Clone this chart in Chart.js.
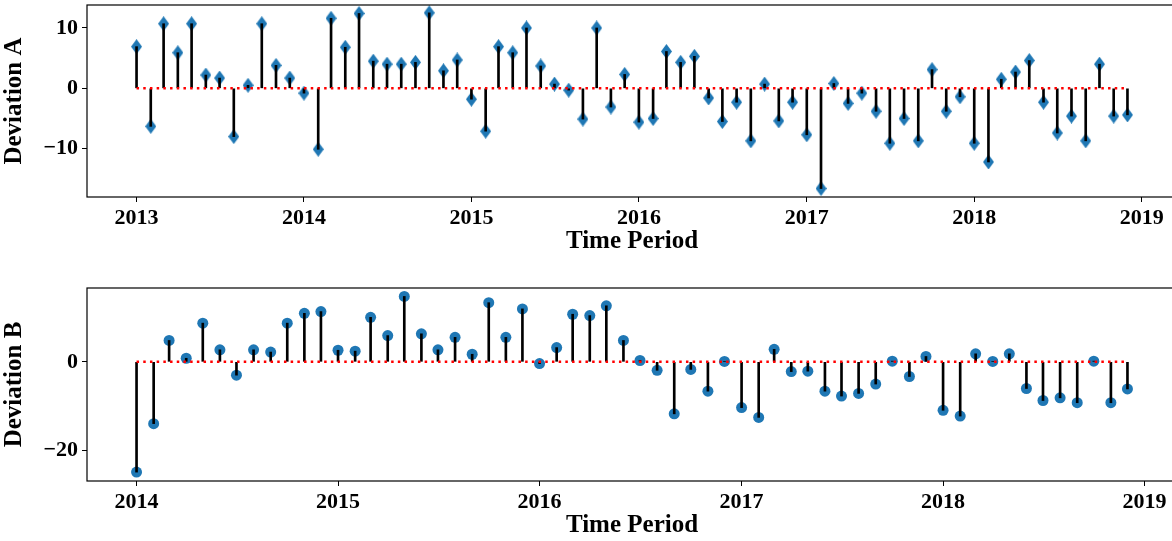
<!DOCTYPE html>
<html>
<head>
<meta charset="utf-8">
<script src="https://cdn.jsdelivr.net/npm/chart.js@4.4.1/dist/chart.umd.min.js"></script>
<style>
  html, body { margin: 0; padding: 0; background: #fff; overflow: hidden; width: 1172px; height: 541px; }
  canvas { position: absolute; left: 0; }
  #chartA { top: 0; }
  #chartB { top: 283px; }
</style>
</head>
<body>
<canvas id="chartA" width="1177" height="257" style="width:1177px;height:257px"></canvas>
<canvas id="chartB" width="1177" height="258" style="width:1177px;height:258px"></canvas>
<script>
'use strict';

// years covered by each panel (monthly points, Jan..Dec)
const yearsA = [2013, 2014, 2015, 2016, 2017, 2018];
const yearsB = [2014, 2015, 2016, 2017, 2018];

// Deviation A, 2013-01 .. 2018-12
const deviationA = [
  6.9, -6.3, 10.7, 5.9, 10.7, 2.2, 1.7, -8.0, 0.5, 10.7, 3.8, 1.7,
  -0.8, -10.1, 11.6, 6.8, 12.4, 4.5, 4.0, 4.0, 4.3, 12.5, 2.9, 4.7,
  -1.8, -7.1, 6.9, 5.9, 10.0, 3.7, 0.7, -0.3, -5.1, 10.0, -3.1, 2.3,
  -5.6, -5.0, 6.1, 4.3, 5.3, -1.6, -5.5, -2.3, -8.7, 0.7, -5.4, -2.3,
  -7.7, -16.6, 0.8, -2.5, -0.8, -3.8, -9.1, -5.0, -8.7, 3.1, -3.8, -1.4,
  -9.1, -12.2, 1.5, 2.7, 4.6, -2.3, -7.4, -4.6, -8.7, 4.0, -4.6, -4.4
];

// Deviation B, 2014-01 .. 2018-12
const deviationB = [
  -24.8, -13.9, 4.8, 0.8, 8.7, 2.7, -3.0, 2.7, 2.2, 8.7, 10.9, 11.3,
  2.6, 2.4, 10.0, 5.9, 14.7, 6.3, 2.7, 5.5, 1.7, 13.3, 5.5, 11.9,
  -0.4, 3.2, 10.7, 10.4, 12.6, 4.8, 0.3, -1.9, -11.7, -1.7, -6.6, 0.1,
  -10.3, -12.5, 2.8, -2.2, -2.1, -6.6, -7.7, -7.1, -5.0, 0.15, -3.3, 1.2,
  -10.9, -12.2, 1.8, 0.1, 1.8, -6.0, -8.7, -8.1, -9.2, 0.15, -9.2, -6.1
];

// tick labels
const xTickYearsA = [2013, 2014, 2015, 2016, 2017, 2018, 2019];
const xTickYearsB = [2014, 2015, 2016, 2017, 2018, 2019];
const yTicksA = [-10, 0, 10];
const yTicksB = [-20, 0];

const DAY = 86400000;
function dayOf(year, month) { return Date.UTC(year, month - 1, 1) / DAY; }
function monthsOf(years) {
  let out = [];
  for (let y of years) {
    for (let m = 1; m <= 12; m++) out.push(dayOf(y, m));
  }
  return out;
}

// thin diamond marker (matplotlib 'd')
function makeDiamond(w, h, color) {
  let c = document.createElement('canvas');
  c.width = w;
  c.height = h;
  let g = c.getContext('2d');
  g.fillStyle = color;
  g.beginPath();
  g.moveTo(w / 2, 0);
  g.lineTo(w, h / 2);
  g.lineTo(w / 2, h);
  g.lineTo(0, h / 2);
  g.closePath();
  g.fill();
  return c;
}

Chart.defaults.font.family = '"Liberation Serif", "Times New Roman", serif';
Chart.defaults.font.weight = 'bold';
Chart.defaults.color = '#000';

// box around the plot area
const framePlugin = {
  id: 'frame',
  afterDatasetsDraw(chart) {
    let a = chart.chartArea;
    let ctx = chart.ctx;
    ctx.save();
    ctx.strokeStyle = '#000';
    ctx.lineWidth = 1.2;
    ctx.strokeRect(a.left, a.top, a.right - a.left, a.bottom - a.top);
    ctx.restore();
  }
};

function minusLabel(v) {
  return v < 0 ? '\u2212' + Math.abs(v) : String(v);
}

function renderStem(canvasId, years, values, pointStyle, pointRadius, yMin, yMax, yTicks, xYears, yTitle) {
  let months = monthsOf(years);
  let first = months[0];
  let last = months[months.length - 1];
  let pad = (last - first) * 0.05;

  return new Chart(document.getElementById(canvasId), {
    type: 'bar',
    data: {
      datasets: [
        {
          // baseline
          type: 'line',
          data: [{ x: first, y: 0 }, { x: last, y: 0 }],
          borderColor: '#ff0000',
          borderWidth: 2.5,
          borderDash: [2.5, 4.2],
          borderCapStyle: 'butt',
          pointRadius: 0,
          order: 0
        },
        {
          // stems
          type: 'bar',
          data: months.map((m, i) => ({ x: m, y: [0, values[i]] })),
          backgroundColor: '#000',
          borderWidth: 0,
          barThickness: 2,
          order: 1
        },
        {
          // markers
          type: 'scatter',
          data: months.map((m, i) => ({ x: m, y: values[i] })),
          pointStyle: pointStyle,
          pointRadius: pointRadius,
          backgroundColor: '#1f77b4',
          borderWidth: 0,
          order: 2
        }
      ]
    },
    options: {
      responsive: false,
      animation: false,
      devicePixelRatio: 1,
      layout: { autoPadding: false, padding: { top: 5, left: 0, right: 0, bottom: 0 } },
      plugins: { legend: { display: false }, tooltip: { enabled: false } },
      scales: {
        x: {
          type: 'linear',
          offset: false,
          min: first - pad,
          max: last + pad,
          grid: { display: true, offset: false, drawOnChartArea: false, drawTicks: true, tickLength: 5, tickColor: '#000', tickWidth: 1 },
          border: { display: false },
          ticks: {
            font: { size: 22, weight: 'bold' },
            color: '#000',
            padding: 3,
            maxRotation: 0,
            autoSkip: false,
            callback: (v, i) => xYears[i]
          },
          afterBuildTicks: (scale) => { scale.ticks = xYears.map(y => ({ value: dayOf(y, 1) })); },
          afterFit: (scale) => { scale.height = 60; scale.paddingLeft = 0; scale.paddingRight = 0; },
          title: { display: true, text: 'Time Period', font: { size: 25, weight: 'bold' }, color: '#000', padding: { top: 0, bottom: 0 } }
        },
        y: {
          type: 'linear',
          min: yMin,
          max: yMax,
          grid: { display: true, drawOnChartArea: false, drawTicks: true, tickLength: 5, tickColor: '#000', tickWidth: 1 },
          border: { display: false },
          ticks: {
            font: { size: 22, weight: 'bold' },
            color: '#000',
            padding: 4,
            callback: (v) => minusLabel(v)
          },
          afterBuildTicks: (scale) => { scale.ticks = yTicks.map(v => ({ value: v })); },
          afterFit: (scale) => { scale.width = 87; scale.paddingTop = 0; scale.paddingBottom = 0; },
          title: { display: true, text: yTitle, font: { size: 25, weight: 'bold' }, color: '#000', padding: { top: 0, bottom: 0 } }
        }
      }
    },
    plugins: [framePlugin]
  });
}

renderStem('chartA', yearsA, deviationA, makeDiamond(11, 15, '#1f77b4'), 6, -18.0, 13.8, yTicksA, xTickYearsA, 'Deviation A');
renderStem('chartB', yearsB, deviationB, 'circle', 5.5, -26.8, 16.6, yTicksB, xTickYearsB, 'Deviation B');
</script>
</body>
</html>
